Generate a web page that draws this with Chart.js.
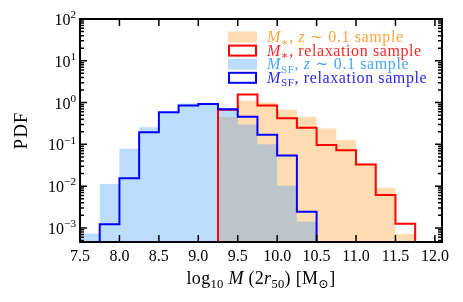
<!DOCTYPE html>
<html lang="en">
<head>
<meta charset="UTF-8">
<title>Aperture mass PDF</title>
<script src="https://cdn.jsdelivr.net/npm/chart.js"></script>
<style>
  html, body { margin: 0; padding: 0; background: #fff; }
  #wrap { width: 463px; height: 302px; }
</style>
</head>
<body>
<div id="wrap"><canvas id="pdfChart"></canvas></div>
<script>
// bin edges, log10 M, 0.25 dex wide
const binEdges = [7.5, 7.75, 8.0, 8.25, 8.5, 8.75, 9.0, 9.25, 9.5, 9.75, 10.0, 10.25, 10.5, 10.75, 11.0, 11.25, 11.5, 11.75];

// PDF per bin (null = empty bin)
const mStarAll   = [null, null, null, null, null, null, null, 0.45, 1.1, 1.0, 0.67, 0.46, 0.24, 0.127, 0.035, 0.0091, 0.00071];
const mStarRelax = [null, null, null, null, null, null, null, 0.67, 1.55, 0.85, 0.42, 0.25, 0.097, 0.072, 0.033, 0.0061, 0.00126];
const mSfAll     = [0.00073, 0.0112, 0.078, 0.257, 0.60, 0.95, 0.97, 0.71, 0.30, 0.10, 0.0102, 0.0014, null, null, null, null, null];
const mSfRelax   = [null, 0.00123, 0.0154, 0.195, 0.59, 0.85, 0.93, 0.69, 0.46, 0.17, 0.054, 0.00244, null, null, null, null, null];

const xTicks = [7.5, 8.0, 8.5, 9.0, 9.5, 10.0, 10.5, 11.0, 11.5, 12.0];
const yDecades = [-3, -2, -1, 0, 1, 2];

const Y_MIN = 4.6e-4, Y_MAX = 100;
const SERIF = '"Liberation Serif", "DejaVu Serif", serif';

// turn bin values into a closed step outline (drops to the floor at both ends)
function stepPoints(vals) {
  let first = vals.findIndex(v => v != null);
  let last = vals.length - 1;
  while (vals[last] == null) last--;
  const pts = [{ x: binEdges[first], y: Y_MIN / 10 }];
  for (let i = first; i <= last; i++) pts.push({ x: binEdges[i], y: vals[i] });
  pts.push({ x: binEdges[last + 1], y: Y_MIN / 10 });
  return pts;
}

// text made of pieces (italic / sub / sup)
function setFont(ctx, s, size, spacing) {
  const sz = (s.sub || s.sup) ? size * 0.7 : size;
  ctx.font = (s.it ? 'italic ' : '') + sz + 'px ' + SERIF;
  ctx.letterSpacing = (spacing || 0) + 'px';
}
function richWidth(ctx, segs, size, spacing) {
  let w = 0;
  segs.forEach(s => { setFont(ctx, s, size, spacing); w += ctx.measureText(s.t).width; });
  ctx.letterSpacing = '0px';
  return w;
}
function drawRich(ctx, x, y, segs, size, color, spacing) {
  ctx.fillStyle = color;
  ctx.textBaseline = 'alphabetic';
  ctx.textAlign = 'left';
  segs.forEach(s => {
    setFont(ctx, s, size, spacing);
    const dy = s.sub ? size * 0.22 : (s.sup ? -size * 0.42 : 0);
    ctx.fillText(s.t, x, y + dy);
    x += ctx.measureText(s.t).width;
  });
  ctx.letterSpacing = '0px';
}

const legendItems = [
  { fill: 'rgba(255,140,0,0.3)', stroke: null, color: '#ffa640',
    segs: [{ t: 'M', it: true }, { t: '∗', sub: true }, { t: ', ' }, { t: 'z', it: true }, { t: ' ∼ 0.1 sample' }] },
  { fill: '#fff', stroke: '#ff0000', color: '#f42a2a',
    segs: [{ t: 'M', it: true }, { t: '∗', sub: true }, { t: ', relaxation sample' }] },
  { fill: 'rgba(30,144,255,0.3)', stroke: null, color: '#4aa6f6',
    segs: [{ t: 'M', it: true }, { t: 'SF', sub: true }, { t: ', ' }, { t: 'z', it: true }, { t: ' ∼ 0.1 sample' }] },
  { fill: '#fff', stroke: '#0000ff', color: '#2b2bea',
    segs: [{ t: 'M', it: true }, { t: 'SF', sub: true }, { t: ', relaxation sample' }] }
];

const framePlugin = {
  id: 'frame',
  afterDraw(chart) {
    const ctx = chart.ctx;
    const a = chart.chartArea;
    const xs = chart.scales.x, ys = chart.scales.y;
    ctx.save();
    ctx.strokeStyle = '#000';

    // inward ticks, all four sides
    ctx.lineWidth = 1.5;
    ctx.beginPath();
    xTicks.forEach(v => {
      const px = xs.getPixelForValue(v);
      ctx.moveTo(px, a.bottom); ctx.lineTo(px, a.bottom - 7);
      ctx.moveTo(px, a.top); ctx.lineTo(px, a.top + 7);
    });
    for (let d = -4; d <= 2; d++) {
      for (let m = 1; m <= 9; m++) {
        const v = m * Math.pow(10, d);
        if (v < Y_MIN || v > Y_MAX) continue;
        const py = ys.getPixelForValue(v);
        const len = m === 1 ? 7 : 4;
        ctx.moveTo(a.left, py); ctx.lineTo(a.left + len, py);
        ctx.moveTo(a.right, py); ctx.lineTo(a.right - len, py);
      }
    }
    ctx.stroke();

    // frame
    ctx.lineWidth = 2;
    ctx.strokeRect(a.left, a.top, a.right - a.left, a.bottom - a.top);

    // y tick labels 10^n
    yDecades.forEach(n => {
      const py = ys.getPixelForValue(Math.pow(10, n));
      const segs = [{ t: '10' }, { t: n < 0 ? '−' + (-n) : String(n), sup: true }];
      const w = richWidth(ctx, segs, 16);
      drawRich(ctx, a.left - 4 - w, py + 6, segs, 16, '#000');
    });

    // axis titles
    const xt = [{ t: 'log' }, { t: '10', sub: true }, { t: ' ' }, { t: 'M', it: true }, { t: ' (2' }, { t: 'r', it: true }, { t: '50', sub: true }, { t: ') [M' }, { t: '⊙', sub: true }, { t: ']' }];
    const xw = richWidth(ctx, xt, 18, 0.3);
    drawRich(ctx, (a.left + a.right) / 2 - xw / 2, 284, xt, 18, '#000', 0.3);

    ctx.save();
    ctx.translate(27, (a.top + a.bottom) / 2);
    ctx.rotate(-Math.PI / 2);
    ctx.font = '19px ' + SERIF;
    ctx.letterSpacing = '1px';
    ctx.fillStyle = '#000';
    ctx.textAlign = 'center';
    ctx.textBaseline = 'alphabetic';
    ctx.fillText('PDF', 0, 0);
    ctx.restore();

    // legend
    legendItems.forEach((it, i) => {
      const cy = 37 + i * 13.6;
      if (it.stroke) {
        ctx.fillStyle = it.fill;
        ctx.fillRect(229, cy - 5, 27, 10);
        ctx.lineWidth = 2;
        ctx.strokeStyle = it.stroke;
        ctx.strokeRect(229, cy - 5, 27, 10);
      } else {
        ctx.fillStyle = it.fill;
        ctx.fillRect(228, cy - 5.5, 29, 11);
      }
      drawRich(ctx, 267, cy + 5, it.segs, 16, it.color, 0.6);
    });
    ctx.restore();
  }
};

new Chart(document.getElementById('pdfChart'), {
  type: 'line',
  data: {
    datasets: [
      { label: 'M*, z~0.1 sample', data: stepPoints(mStarAll), stepped: 'before',
        borderWidth: 0, borderColor: 'rgba(0,0,0,0)', backgroundColor: 'rgba(255,140,0,0.3)',
        fill: 'start', pointRadius: 0, order: 4 },
      { label: 'M_SF, z~0.1 sample', data: stepPoints(mSfAll), stepped: 'before',
        borderWidth: 0, borderColor: 'rgba(0,0,0,0)', backgroundColor: 'rgba(30,144,255,0.3)',
        fill: 'start', pointRadius: 0, order: 3 },
      { label: 'M*, relaxation sample', data: stepPoints(mStarRelax), stepped: 'before',
        borderWidth: 2, borderColor: '#ff0000', fill: false, pointRadius: 0, order: 2 },
      { label: 'M_SF, relaxation sample', data: stepPoints(mSfRelax), stepped: 'before',
        borderWidth: 2, borderColor: '#0000ff', fill: false, pointRadius: 0, order: 1 }
    ]
  },
  options: {
    responsive: true,
    maintainAspectRatio: false,
    animation: false,
    devicePixelRatio: 1,
    layout: { padding: { top: 19, right: 21, left: 0, bottom: 0 } },
    plugins: { legend: { display: false }, tooltip: { enabled: false } },
    scales: {
      x: {
        type: 'linear', min: 7.5, max: 12.09,
        afterBuildTicks: s => { s.ticks = xTicks.map(v => ({ value: v })); },
        afterFit: s => { s.height = 60; },
        grid: { display: false, drawTicks: false },
        border: { display: false },
        ticks: { font: { family: SERIF, size: 16 }, color: '#000', padding: 5,
                 maxRotation: 0, autoSkip: false, callback: v => v.toFixed(1) }
      },
      y: {
        type: 'logarithmic', min: Y_MIN, max: Y_MAX,
        afterFit: s => { s.width = 80; },
        grid: { display: false, drawTicks: false },
        border: { display: false },
        ticks: { display: false }
      }
    }
  },
  plugins: [framePlugin]
});
</script>
</body>
</html>
